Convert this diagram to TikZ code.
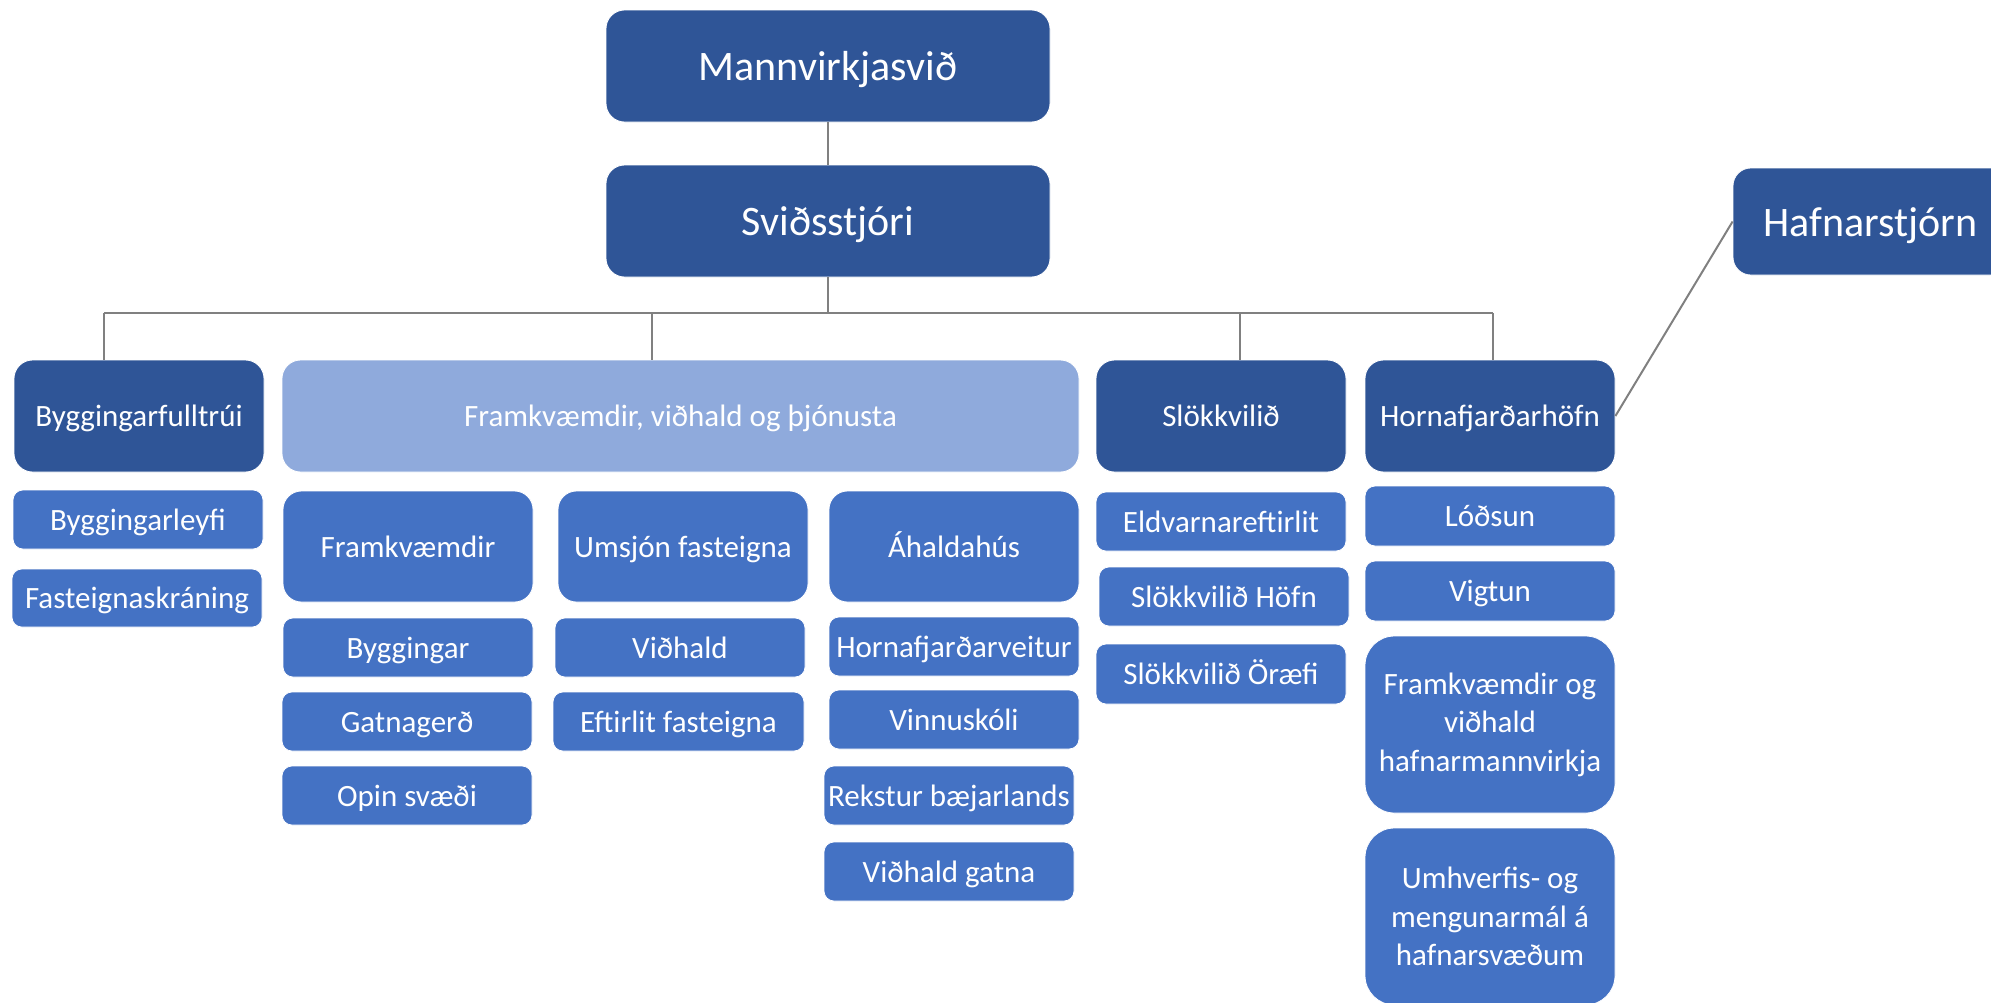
\documentclass[tikz,border=0pt]{standalone}
\usepackage{fontspec}
\setmainfont{Carlito}
\definecolor{dkblue}{RGB}{47,85,151}
\definecolor{mdblue}{RGB}{68,114,196}
\definecolor{ltblue}{RGB}{143,170,220}
\definecolor{conn}{RGB}{128,128,128}
\tikzset{
  orgbase/.style={draw=white, line width=0.8pt, text=white, inner sep=0pt, align=center},
  dark/.style={orgbase, fill=dkblue},
  mid/.style={orgbase, fill=mdblue},
  light/.style={orgbase, fill=ltblue},
  bigtext/.style={font=\fontsize{42}{51}\selectfont, text height=39.9pt, text depth=10.5pt},
  stdtext/.style={font=\fontsize{31}{37.8}\selectfont, text height=29.45pt, text depth=7.75pt},
  multitext/.style={font=\fontsize{31}{38.6}\selectfont},
  link/.style={draw=conn, line width=2pt}
}
\newcommand\orgbox[7]{%
  \pgfmathsetmacro\obW{#4-#2}%
  \pgfmathsetmacro\obH{#5-#3}%
  \pgfmathsetmacro\obR{0.1667*min(\obW,\obH)}%
  \node[#6, minimum width=\obW pt, minimum height=\obH pt, rounded corners=\obR pt] (#1) at ({(#2+#4)/2},{(#3+#5)/2}) {#7};%
}
\begin{document}
\begin{tikzpicture}[x=1pt,y=-1pt]
\useasboundingbox (0,0) rectangle (1991,1002);
\clip (0,0) rectangle (1991,1002);
% top level
\orgbox{mann}{606}{10}{1050}{122}{dark,bigtext}{Mannvirkjasvið}
\orgbox{svid}{606}{165}{1050}{277}{dark,bigtext}{Sviðsstjóri}
\orgbox{hafn}{1733}{168}{2008}{275}{dark,bigtext}{Hafnarstjórn}
% second level
\orgbox{byg}{14}{360}{264}{472}{dark,stdtext}{Byggingarfulltrúi}
\orgbox{fvt}{282}{360}{1079}{472}{light,stdtext}{Framkvæmdir, viðhald og þjónusta}
\orgbox{slo}{1096}{360}{1346}{472}{dark,stdtext}{Slökkvilið}
\orgbox{hofn}{1365}{360}{1615}{472}{dark,stdtext}{Hornafjarðarhöfn}
% Byggingarfulltrúi column
\orgbox{bleyfi}{13}{490}{263}{549}{mid,stdtext}{Byggingarleyfi}
\orgbox{fskr}{12}{569}{262}{627}{mid,stdtext}{Fasteignaskráning}
% Framkvæmdir column
\orgbox{frkv}{283}{491}{533}{602}{mid,stdtext}{Framkvæmdir}
\orgbox{bygg}{283}{618}{533}{677}{mid,stdtext}{Byggingar}
\orgbox{gatn}{282}{692}{532}{751}{mid,stdtext}{Gatnagerð}
\orgbox{opin}{282}{766}{532}{825}{mid,stdtext}{Opin svæði}
% Umsjón column
\orgbox{umsj}{558}{491}{808}{602}{mid,stdtext}{Umsjón fasteigna}
\orgbox{vidh}{555}{618}{805}{677}{mid,stdtext}{Viðhald}
\orgbox{eftir}{553}{692}{804}{751}{mid,stdtext}{Eftirlit fasteigna}
% Áhaldahús column
\orgbox{ahald}{829}{491}{1079}{602}{mid,stdtext}{Áhaldahús}
\orgbox{hveit}{829}{617}{1079}{676}{mid,stdtext}{Hornafjarðarveitur}
\orgbox{vinn}{829}{690}{1079}{749}{mid,stdtext}{Vinnuskóli}
\orgbox{rekst}{824}{766}{1074}{825}{mid,stdtext}{Rekstur bæjarlands}
\orgbox{vidg}{824}{842}{1074}{901}{mid,stdtext}{Viðhald gatna}
% Slökkvilið column
\orgbox{eldv}{1096}{492}{1346}{551}{mid,stdtext}{Eldvarnareftirlit}
\orgbox{shofn}{1099}{567}{1349}{626}{mid,stdtext}{Slökkvilið Höfn}
\orgbox{sorf}{1096}{644}{1346}{704}{mid,stdtext}{Slökkvilið Öræfi}
% Hornafjarðarhöfn column
\orgbox{lods}{1365}{486}{1615}{546}{mid,stdtext}{Lóðsun}
\orgbox{vigt}{1365}{561}{1615}{621}{mid,stdtext}{Vigtun}
\orgbox{fvh}{1365}{636}{1615}{813}{mid,multitext}{Framkvæmdir og\\viðhald\\hafnarmannvirkja}
\orgbox{umhv}{1365}{828}{1615}{1005}{mid,multitext}{Umhverfis- og\\mengunarmál á\\hafnarsvæðum}
% connectors
\coordinate (bus) at (828,313);
\coordinate (d1) at (104,313);
\coordinate (d2) at (652,313);
\coordinate (d3) at (1240,313);
\coordinate (d4) at (1493,313);
\draw[link] (mann.south) -- (svid.north);
\draw[link] (svid.south) -- (bus);
\draw[link] (d1) -- (d4);
\draw[link] (d1) -- (d1 |- byg.north);
\draw[link] (d2) -- (d2 |- fvt.north);
\draw[link] (d3) -- (d3 |- slo.north);
\draw[link] (d4) -- (d4 |- hofn.north);
\draw[link] (hofn.east) -- (hafn.west);
\end{tikzpicture}
\end{document}
